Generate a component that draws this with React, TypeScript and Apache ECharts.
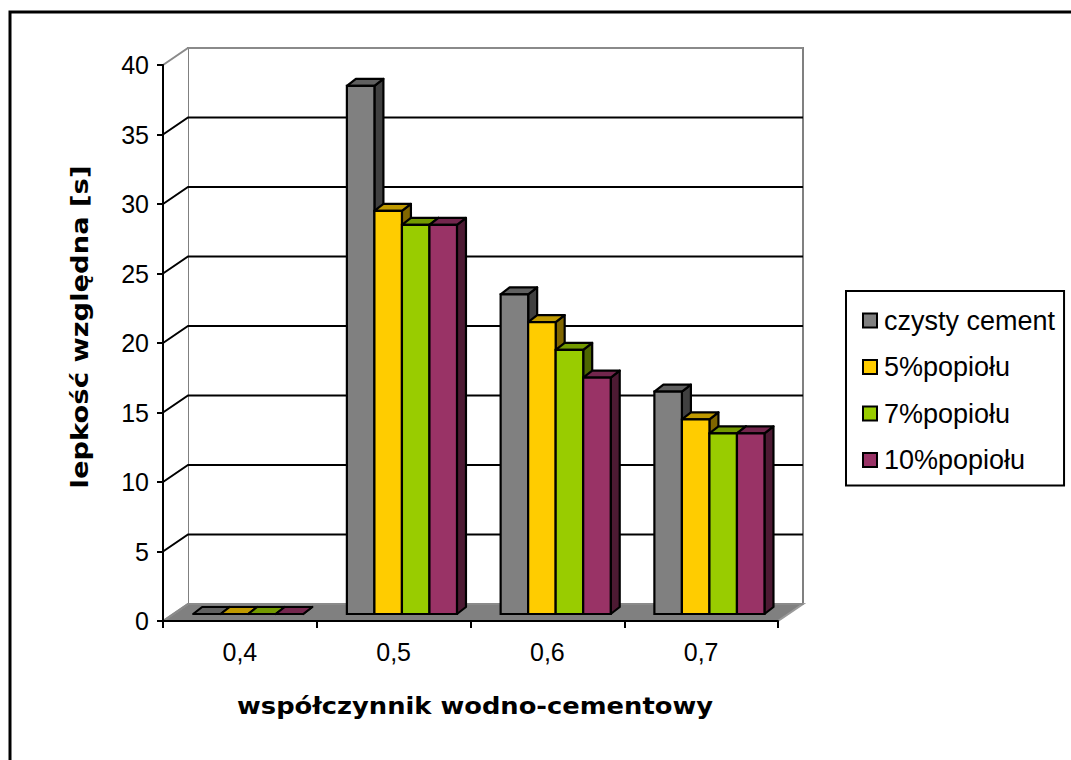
import React, { useEffect, useRef } from "react";
import * as echarts from "echarts";

const categories = ["0,4", "0,5", "0,6", "0,7"];
const seriesNames = ["czysty cement", "5%popiołu", "7%popiołu", "10%popiołu"];
const cement = [0, 38, 23, 16];
const ash5 = [0, 29, 21, 14];
const ash7 = [0, 28, 19, 13];
const ash10 = [0, 28, 17, 13];
const seriesValues = [cement, ash5, ash7, ash10];
const yTicks = [0, 5, 10, 15, 20, 25, 30, 35, 40];
const colors = ["#808080", "#FFCC00", "#99CC00", "#993366"];
const Y_MIN = 0;
const Y_MAX = 40;
const Y_STEP = 5;

const xTitle = "współczynnik wodno-cementowy";
const yTitle = "lepkość względna [s]";

// 3D look
const WALL_DX = 25;
const WALL_DY = -17;
const BAR_DX = 9;
const BAR_DY = -7;
const BAR_SHIFT_Y = 7;

function shade(hex: string, f: number) {
  const n = parseInt(hex.slice(1), 16);
  const r = Math.round(((n >> 16) & 255) * f);
  const g = Math.round(((n >> 8) & 255) * f);
  const b = Math.round((n & 255) * f);
  return `rgb(${r},${g},${b})`;
}

export default function App() {
  const ref = useRef<HTMLDivElement>(null);

  useEffect(() => {
    if (!ref.current) return;
    const chart = echarts.init(ref.current, undefined, { renderer: "svg" });

    const wallSeries: any = {
      type: "custom",
      name: "walls",
      coordinateSystem: "cartesian2d",
      silent: true,
      z: 1,
      data: [[0, 0]],
      encode: { x: 0, y: 1 },
      renderItem: (params: any) => {
        const cs = params.coordSys;
        const x = cs.x, y = cs.y, w = cs.width, h = cs.height;
        return {
          type: "group",
          children: [
            {
              type: "rect",
              shape: { x: x + WALL_DX, y: y + WALL_DY, width: w, height: h },
              style: { fill: "#fff", stroke: "#808080", lineWidth: 2 },
            },
            {
              type: "polygon",
              shape: {
                points: [
                  [x, y],
                  [x + WALL_DX, y + WALL_DY],
                  [x + WALL_DX, y + h + WALL_DY],
                  [x, y + h],
                ],
              },
              style: { fill: "#fff" },
            },
            {
              type: "polygon",
              shape: {
                points: [
                  [x, y + h],
                  [x + WALL_DX, y + h + WALL_DY],
                  [x + w + WALL_DX, y + h + WALL_DY],
                  [x + w, y + h],
                ],
              },
              style: { fill: "#808080", stroke: "#9a9a9a", lineWidth: 2 },
            },
          ],
        };
      },
    };

    const gridSeries: any = {
      type: "custom",
      name: "gridlines",
      coordinateSystem: "cartesian2d",
      silent: true,
      z: 2,
      data: yTicks.map((v) => [0, v]),
      encode: { x: 0, y: 1 },
      renderItem: (params: any, api: any) => {
        const cs = params.coordSys;
        const v = api.value(1);
        const p = api.coord([0, v]);
        const edge = v <= Y_MIN || v >= Y_MAX;
        return {
          type: "polyline",
          shape: {
            points: [
              [cs.x, p[1]],
              [cs.x + WALL_DX, p[1] + WALL_DY],
              [cs.x + cs.width + WALL_DX, p[1] + WALL_DY],
            ],
          },
          style: {
            fill: "none",
            stroke: edge ? "#8a8a8a" : "#000",
            lineWidth: 2,
          },
        };
      },
    };

    const barSeries: any[] = seriesNames.map((name, k) => {
      const color = colors[k];
      const top = shade(color, 0.75);
      const side = shade(color, 0.5);
      return {
        type: "custom",
        name,
        coordinateSystem: "cartesian2d",
        silent: true,
        z: 3,
        itemStyle: { color },
        encode: { x: 0, y: 1 },
        data: seriesValues[k].map((v, i) => [i, v]),
        renderItem: (params: any, api: any) => {
          const cat = api.value(0);
          const val = api.value(1);
          const p0 = api.coord([cat, 0]);
          const p1 = api.coord([cat, val]);
          const band = api.size([1, 0])[0];
          const bw = band * 0.179;
          const x0 = p0[0] + band * 0.054 - 2 * bw + k * bw;
          const yb = p0[1] - BAR_SHIFT_Y;
          const yt = p1[1] - BAR_SHIFT_Y;
          return {
            type: "group",
            children: [
              {
                type: "polygon",
                shape: {
                  points: [
                    [x0 + bw, yb],
                    [x0 + bw + BAR_DX, yb + BAR_DY],
                    [x0 + bw + BAR_DX, yt + BAR_DY],
                    [x0 + bw, yt],
                  ],
                },
                style: { fill: side, stroke: "#000", lineWidth: 2.2, lineJoin: "round" },
              },
              {
                type: "polygon",
                shape: {
                  points: [
                    [x0, yt],
                    [x0 + BAR_DX, yt + BAR_DY],
                    [x0 + bw + BAR_DX, yt + BAR_DY],
                    [x0 + bw, yt],
                  ],
                },
                style: { fill: top, stroke: "#000", lineWidth: 2.2, lineJoin: "round" },
              },
              {
                type: "rect",
                shape: { x: x0, y: yt, width: bw, height: yb - yt },
                style: { fill: color, stroke: "#000", lineWidth: 2.2 },
              },
            ],
          };
        },
      };
    });

    const option: any = {
      animation: false,
      backgroundColor: "#fff",
      grid: { left: 163, top: 65, right: 293, bottom: 139, containLabel: false },
      xAxis: {
        type: "category",
        data: categories,
        boundaryGap: true,
        z: 10,
        axisLine: { show: true, lineStyle: { color: "#000", width: 2 } },
        axisTick: { show: true, length: 7, lineStyle: { color: "#000", width: 2 } },
        axisLabel: {
          color: "#000",
          fontSize: 25,
          fontFamily: "Liberation Sans, Arial, sans-serif",
          margin: 18,
        },
        splitLine: { show: false },
      },
      yAxis: {
        type: "value",
        min: Y_MIN,
        max: Y_MAX,
        interval: Y_STEP,
        z: 10,
        axisLine: { show: true, lineStyle: { color: "#000", width: 2 } },
        axisTick: { show: true, length: 6, lineStyle: { color: "#000", width: 2 } },
        axisLabel: {
          color: "#000",
          fontSize: 25,
          fontFamily: "Liberation Sans, Arial, sans-serif",
          margin: 14,
        },
        splitLine: { show: false },
      },
      legend: {
        data: seriesNames,
        orient: "vertical",
        left: 846,
        top: 291,
        icon: "rect",
        itemWidth: 14,
        itemHeight: 14,
        itemGap: 19.5,
        padding: [16, 9, 12, 16],
        borderColor: "#000",
        borderWidth: 2,
        backgroundColor: "#fff",
        itemStyle: { borderColor: "#000", borderWidth: 2 },
        textStyle: {
          color: "#000",
          fontSize: 27,
          fontFamily: "Liberation Sans, Arial, sans-serif",
          lineHeight: 27,
          padding: [0, 0, 0, 2],
        },
        selectedMode: false,
      },
      graphic: [
        {
          type: "rect",
          silent: true,
          shape: { x: 10, y: 12, width: 1100, height: 800 },
          style: { fill: "none", stroke: "#000", lineWidth: 3 },
          z: 100,
        },
        {
          type: "text",
          x: 475,
          y: 706,
          scaleX: 1.12,
          silent: true,
          style: {
            text: xTitle,
            fontSize: 23,
            fontWeight: "bold",
            fontFamily: "DejaVu Sans",
            fill: "#000",
            textAlign: "center",
            textVerticalAlign: "middle",
            align: "center",
            verticalAlign: "middle",
          },
        },
        {
          type: "text",
          x: 80,
          y: 327,
          rotation: Math.PI / 2,
          scaleX: 1.19,
          silent: true,
          style: {
            text: yTitle,
            fontSize: 23,
            fontWeight: "bold",
            fontFamily: "DejaVu Sans",
            fill: "#000",
            textAlign: "center",
            textVerticalAlign: "middle",
            align: "center",
            verticalAlign: "middle",
          },
        },
      ],
      series: [wallSeries, gridSeries, ...barSeries],
    };

    chart.setOption(option);
    return () => chart.dispose();
  }, []);

  return (
    <div
      ref={ref}
      style={{ position: "absolute", left: 0, top: 0, width: 1071, height: 760 }}
    />
  );
}
